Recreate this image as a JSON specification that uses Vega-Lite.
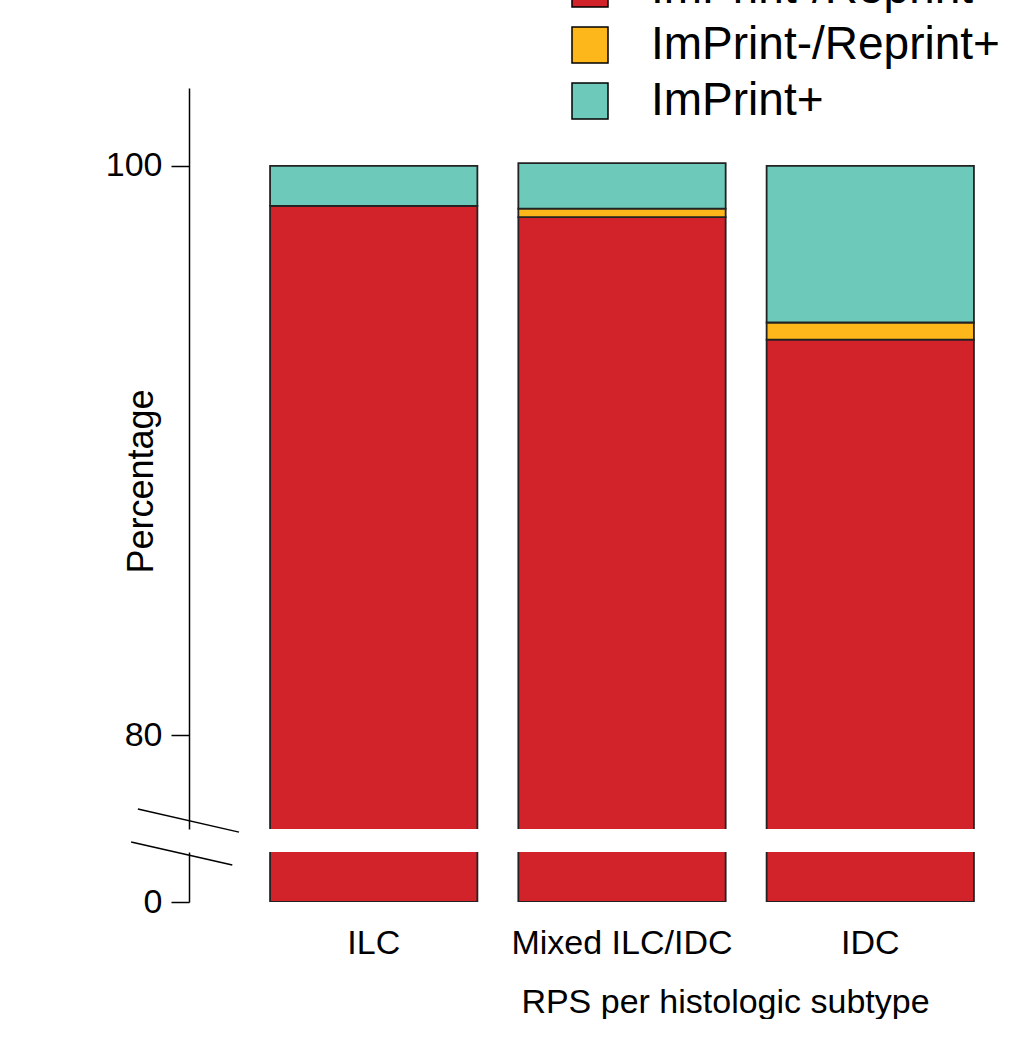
{
  "$schema": "https://vega.github.io/schema/vega-lite/v6.json",
  "background": "white",
  "padding": {"left": 105, "top": -34, "right": 0, "bottom": 0},
  "config": {
    "view": {"stroke": null},
    "font": "Liberation Sans",
    "axis": {"grid": false, "domainColor": "black", "domainWidth": 1.5, "tickColor": "black", "tickWidth": 1.5, "labelColor": "black", "titleColor": "black", "labelFont": "Liberation Sans", "titleFont": "Liberation Sans", "titleFontWeight": "normal"}
  },
  "datasets": {
    "bars": [
      {"subtype": "ILC", "group": "ImPrint-/Reprint-", "ord": 1, "pct": 98.6},
      {"subtype": "ILC", "group": "ImPrint+", "ord": 3, "pct": 1.4},
      {"subtype": "Mixed ILC/IDC", "group": "ImPrint-/Reprint-", "ord": 1, "pct": 98.2},
      {"subtype": "Mixed ILC/IDC", "group": "ImPrint-/Reprint+", "ord": 2, "pct": 0.3},
      {"subtype": "Mixed ILC/IDC", "group": "ImPrint+", "ord": 3, "pct": 1.6},
      {"subtype": "IDC", "group": "ImPrint-/Reprint-", "ord": 1, "pct": 93.9},
      {"subtype": "IDC", "group": "ImPrint-/Reprint+", "ord": 2, "pct": 0.6},
      {"subtype": "IDC", "group": "ImPrint+", "ord": 3, "pct": 5.5}
    ],
    "breakUpper": [
      {"x": -0.426, "x2": -0.02, "y": 77.4, "y2": 76.59}
    ],
    "breakLower": [
      {"x": -0.453, "x2": -0.047, "y": 12, "y2": 7.4}
    ]
  },
  "spacing": 8,
  "vconcat": [
    {
      "width": 756,
      "height": 741,
      "layer": [
        {
          "data": {"name": "bars"},
          "mark": {"type": "bar", "clip": true, "stroke": "#222222", "strokeWidth": 1.8},
          "encoding": {
            "x": {"field": "subtype", "type": "nominal", "sort": ["ILC", "Mixed ILC/IDC", "IDC"], "scale": {"paddingInner": 0.165, "paddingOuter": 0.105}, "axis": null},
            "y": {"field": "pct", "type": "quantitative", "stack": "zero", "scale": {"domain": [76.7, 102.74], "nice": false, "zero": false},
              "axis": {"values": [80, 100], "offset": 55, "tickSize": 18, "labelFontSize": 34, "labelPadding": 9, "title": "Percentage", "titleFontSize": 36, "titleBaseline": "alphabetic", "titleX": -37, "titleY": 393, "titleAngle": 270}},
            "color": {"field": "group", "type": "nominal",
              "scale": {"domain": ["ImPrint-/Reprint-", "ImPrint-/Reprint+", "ImPrint+"], "range": ["#D2232A", "#FDB71A", "#6DCABB"]},
              "legend": {"orient": "none", "legendX": 323, "legendY": -122, "title": null, "symbolType": "square", "symbolSize": 1296, "symbolStrokeColor": "black", "symbolStrokeWidth": 1.5, "symbolOpacity": 1, "labelFontSize": 46, "labelColor": "black", "labelOffset": 38, "rowPadding": 10, "labelLimit": 600}},
            "order": {"field": "ord", "type": "quantitative"}
          }
        },
        {
          "data": {"name": "breakUpper"},
          "mark": {"type": "rule", "color": "black", "strokeWidth": 1.5, "clip": false},
          "encoding": {
            "x": {"field": "x", "type": "quantitative", "scale": {"domain": [0, 3.035], "nice": false, "zero": false}, "axis": null},
            "x2": {"field": "x2"},
            "y": {"field": "y", "type": "quantitative"},
            "y2": {"field": "y2"}
          }
        }
      ],
      "resolve": {"scale": {"x": "independent"}}
    },
    {
      "width": 756,
      "height": 50,
      "layer": [
        {
          "data": {"name": "bars"},
          "mark": {"type": "bar", "clip": true, "stroke": "#222222", "strokeWidth": 1.8},
          "encoding": {
            "x": {"field": "subtype", "type": "nominal", "sort": ["ILC", "Mixed ILC/IDC", "IDC"], "scale": {"paddingInner": 0.165, "paddingOuter": 0.105},
              "axis": {"domain": false, "ticks": false, "labelAngle": 0, "labelFontSize": 34, "labelPadding": 24, "labelLimit": 500, "title": "RPS per histologic subtype", "titleFontSize": 34, "titleX": 481, "titleY": 100, "titleBaseline": "middle"}},
            "y": {"field": "pct", "type": "quantitative", "stack": "zero", "scale": {"domain": [0, 10], "nice": false},
              "axis": {"values": [0], "offset": 55, "tickSize": 18, "labelFontSize": 34, "labelPadding": 9, "title": null}},
            "color": {"field": "group", "type": "nominal", "scale": {"domain": ["ImPrint-/Reprint-", "ImPrint-/Reprint+", "ImPrint+"], "range": ["#D2232A", "#FDB71A", "#6DCABB"]}, "legend": null},
            "order": {"field": "ord", "type": "quantitative"}
          }
        },
        {
          "data": {"name": "breakLower"},
          "mark": {"type": "rule", "color": "black", "strokeWidth": 1.5, "clip": false},
          "encoding": {
            "x": {"field": "x", "type": "quantitative", "scale": {"domain": [0, 3.035], "nice": false, "zero": false}, "axis": null},
            "x2": {"field": "x2"},
            "y": {"field": "y", "type": "quantitative"},
            "y2": {"field": "y2"}
          }
        }
      ],
      "resolve": {"scale": {"x": "independent"}}
    }
  ]
}
